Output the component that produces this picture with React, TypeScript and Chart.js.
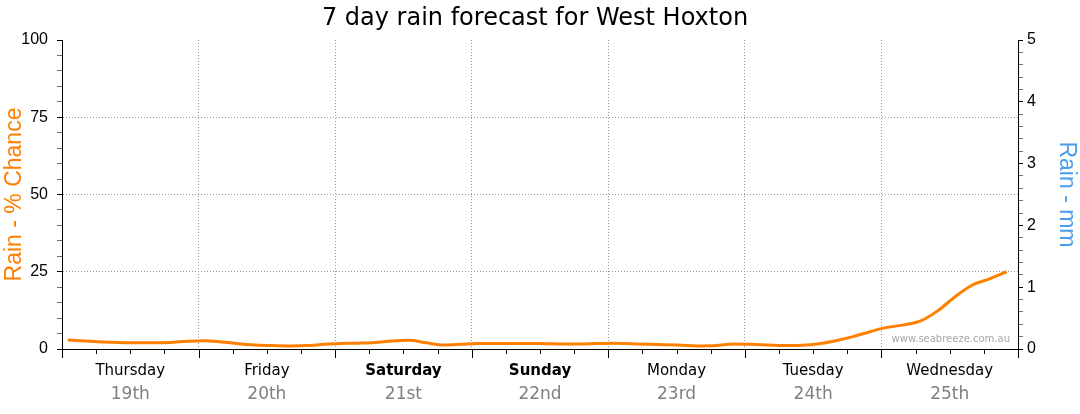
import React, { useEffect, useRef } from 'react';
import { Chart, registerables } from 'chart.js';

Chart.register(...registerables);

const TITLE = '7 day rain forecast for West Hoxton';
const WATERMARK = 'www.seabreeze.com.au';
const LEFT_TITLE = 'Rain - % Chance';
const RIGHT_TITLE = 'Rain - mm';

const DAY_NAMES = ['Thursday', 'Friday', 'Saturday', 'Sunday', 'Monday', 'Tuesday', 'Wednesday'];
const DAY_DATES = ['19th', '20th', '21st', '22nd', '23rd', '24th', '25th'];
const BOLD_DAYS = ['Saturday', 'Sunday'];
const DAY_LABEL_HOURS = [12, 36, 60, 84, 108, 132, 156];
const DAY_BOUNDARY_HOURS = [0, 24, 48, 72, 96, 120, 144, 168];
const SIX_HOUR_TICKS = [0, 6, 12, 18, 24, 30, 36, 42, 48, 54, 60, 66, 72, 78, 84, 90, 96, 102, 108, 114, 120, 126, 132, 138, 144, 150, 156, 162, 168];

// hours since Thursday 00:00
const HOURS = [
  1, 4, 7, 10, 13, 16, 19, 22,
  25, 28, 31, 34, 37, 40, 43, 46,
  49, 52, 55, 58, 61, 64, 67, 70,
  73, 76, 79, 82, 85, 88, 91, 94,
  97, 100, 103, 106, 109, 112, 115, 118,
  121, 124, 127, 130, 133, 136, 139, 142,
  145, 148, 151, 154, 157, 160, 163, 166,
];

// rain chance (%)
const RAIN_CHANCE = [
  2.9, 2.6, 2.3, 2.1, 2.0, 2.0, 2.1, 2.5,
  2.7, 2.3, 1.7, 1.3, 1.1, 1.0, 1.1, 1.5,
  1.8, 1.9, 2.1, 2.6, 2.8, 2.0, 1.3, 1.5,
  1.8, 1.8, 1.8, 1.8, 1.7, 1.6, 1.6, 1.8,
  1.9, 1.7, 1.5, 1.4, 1.2, 1.0, 1.1, 1.6,
  1.5, 1.3, 1.1, 1.2, 1.7, 2.7, 4.0, 5.6,
  7.0, 7.8, 9.2, 12.5, 17.0, 20.7, 22.7, 25.0,
];

const CHANCE_MAJOR = [0, 25, 50, 75, 100];
const MM_MAJOR = [0, 1, 2, 3, 4, 5];

const ORANGE = '#FF7F00';
const BLUE = '#4A9DEB';
const GRID = '#999999';

const isClose = (a: number, b: number) => Math.abs(a - b) < 1e-6;

const decorPlugin = {
  id: 'decor',
  beforeDatasetsDraw(chart: any) {
    const { ctx, chartArea } = chart;
    ctx.save();
    ctx.fillStyle = '#A8A8A8';
    ctx.font = '10px "DejaVu Sans"';
    ctx.textAlign = 'right';
    ctx.textBaseline = 'middle';
    ctx.fillText(WATERMARK, chartArea.right - 8, chartArea.bottom - 10);
    ctx.restore();
  },
  afterDraw(chart: any) {
    const { ctx, chartArea, scales } = chart;
    const xs = scales.x;
    ctx.save();
    ctx.strokeStyle = '#000';
    ctx.lineWidth = 1;
    for (const v of SIX_HOUR_TICKS) {
      const px = Math.round(xs.getPixelForValue(v)) + 0.5;
      const len = DAY_BOUNDARY_HOURS.includes(v) ? 9 : 5;
      ctx.beginPath();
      ctx.moveTo(px, chartArea.bottom);
      ctx.lineTo(px, chartArea.bottom + len);
      ctx.stroke();
    }
    ctx.fillStyle = '#000';
    ctx.font = '24px "DejaVu Sans"';
    ctx.textAlign = 'center';
    ctx.textBaseline = 'middle';
    ctx.fillText(TITLE, (chartArea.left + chartArea.right) / 2 - 5, 19);
    ctx.restore();
  },
};

export default function App() {
  const ref = useRef<HTMLCanvasElement | null>(null);

  useEffect(() => {
    if (!ref.current) return;
    const points = HOURS.map((h, i) => ({ x: h, y: RAIN_CHANCE[i] }));
    const chart = new Chart(ref.current, {
      type: 'line',
      data: {
        datasets: [
          {
            label: 'Rain chance',
            data: points,
            borderColor: ORANGE,
            borderWidth: 3,
            pointRadius: 0,
            fill: false,
            cubicInterpolationMode: 'monotone',
            xAxisID: 'x',
            yAxisID: 'y',
          },
        ],
      },
      options: {
        animation: false,
        responsive: false,
        devicePixelRatio: 1,
        layout: { padding: { top: 40, left: 0, right: 0, bottom: 0 } },
        plugins: {
          legend: { display: false },
          tooltip: { enabled: false },
          title: { display: false },
        },
        scales: {
          x: {
            type: 'linear',
            position: 'bottom',
            weight: 0,
            min: 0,
            max: 168,
            afterBuildTicks: (scale: any) => {
              scale.ticks = [...DAY_BOUNDARY_HOURS, ...DAY_LABEL_HOURS]
                .sort((a, b) => a - b)
                .map((v) => ({ value: v }));
            },
            afterFit: (scale: any) => {
              scale.height = 30;
            },
            grid: {
              drawTicks: false,
              lineWidth: 1,
              color: (c: any) => {
                const v = c.tick ? c.tick.value : -1;
                return DAY_BOUNDARY_HOURS.includes(v) && v !== 0 && v !== 168 ? GRID : 'rgba(0,0,0,0)';
              },
            },
            border: { display: true, color: '#000', width: 1, dash: [1, 2] },
            ticks: {
              autoSkip: false,
              maxRotation: 0,
              padding: 13,
              color: '#000',
              font: (c: any) => {
                const v = c.tick ? c.tick.value : -1;
                const idx = DAY_LABEL_HOURS.indexOf(v);
                const bold = idx >= 0 && BOLD_DAYS.includes(DAY_NAMES[idx]);
                return { family: '"DejaVu Sans"', size: 15, weight: bold ? 'bold' : 'normal' };
              },
              callback: (value: any) => {
                const idx = DAY_LABEL_HOURS.indexOf(Number(value));
                return idx >= 0 ? DAY_NAMES[idx] : '';
              },
            },
          },
          x2: {
            type: 'linear',
            position: 'bottom',
            weight: 1,
            min: 0,
            max: 168,
            afterBuildTicks: (scale: any) => {
              scale.ticks = DAY_LABEL_HOURS.map((v) => ({ value: v }));
            },
            afterFit: (scale: any) => {
              scale.height = 35;
            },
            grid: { display: false, drawTicks: false },
            border: { display: false },
            ticks: {
              autoSkip: false,
              maxRotation: 0,
              padding: 5,
              color: '#808080',
              font: { family: '"DejaVu Sans"', size: 17 },
              callback: (value: any) => {
                const idx = DAY_LABEL_HOURS.indexOf(Number(value));
                return idx >= 0 ? DAY_DATES[idx] : '';
              },
            },
          },
          y: {
            type: 'linear',
            position: 'left',
            min: 0,
            max: 100,
            afterFit: (scale: any) => {
              scale.width = 62;
            },
            title: {
              display: true,
              text: LEFT_TITLE,
              color: ORANGE,
              font: { family: '"Liberation Sans"', size: 23 },
              padding: { top: 1, bottom: 0 },
            },
            grid: {
              drawTicks: true,
              tickLength: 5,
              lineWidth: 1,
              color: (c: any) => {
                const v = c.tick ? c.tick.value : -1;
                return CHANCE_MAJOR.includes(v) && v !== 0 && v !== 100 ? GRID : 'rgba(0,0,0,0)';
              },
              tickColor: (c: any) => {
                const v = c.tick ? c.tick.value : -1;
                return CHANCE_MAJOR.includes(v) ? '#000' : '#707070';
              },
            },
            border: { display: true, color: '#000', width: 1, dash: [1, 2] },
            ticks: {
              stepSize: 5,
              autoSkip: false,
              padding: 9,
              color: '#000',
              font: { family: '"Liberation Sans"', size: 16 },
              callback: (value: any) => (CHANCE_MAJOR.includes(Number(value)) ? String(value) : ''),
            },
          },
          y1: {
            type: 'linear',
            position: 'right',
            min: 0,
            max: 5,
            afterFit: (scale: any) => {
              scale.width = 62;
            },
            title: {
              display: true,
              text: RIGHT_TITLE,
              color: BLUE,
              font: { family: '"Liberation Sans"', size: 23 },
              padding: { top: 0, bottom: 1 },
            },
            grid: {
              drawOnChartArea: false,
              drawTicks: true,
              tickLength: 5,
              tickColor: (c: any) => {
                const v = c.tick ? c.tick.value : -1;
                return MM_MAJOR.some((m) => isClose(m, v)) ? '#000' : '#707070';
              },
            },
            border: { display: true, color: '#000', width: 1 },
            ticks: {
              stepSize: 0.2,
              autoSkip: false,
              padding: 4,
              color: '#000',
              font: { family: '"Liberation Sans"', size: 16 },
              callback: (value: any) => {
                const v = Number(value);
                const m = MM_MAJOR.find((k) => isClose(k, v));
                return m !== undefined ? String(m) : '';
              },
            },
          },
        },
      } as any,
      plugins: [decorPlugin],
    });
    return () => chart.destroy();
  }, []);

  return (
    <div style={{ position: 'absolute', left: 0, top: 0, width: 1080, height: 414, background: '#fff' }}>
      <canvas ref={ref} width={1080} height={414} style={{ width: 1080, height: 414, display: 'block' }} />
    </div>
  );
}
